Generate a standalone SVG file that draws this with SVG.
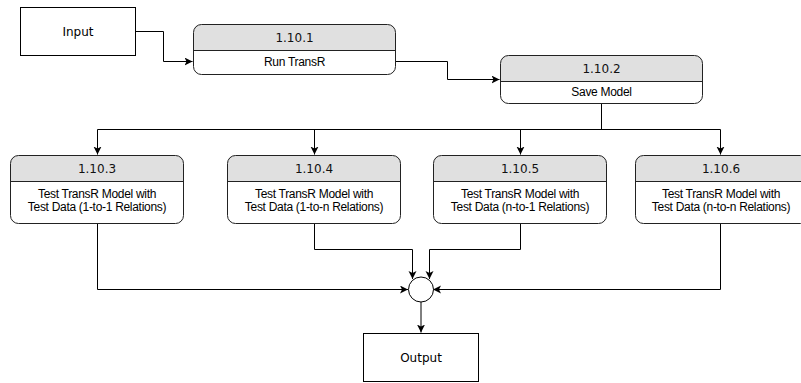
<svg xmlns="http://www.w3.org/2000/svg" width="801" height="383" viewBox="0 0 801 383">
<style>
.box{fill:#fff;stroke:#000;stroke-width:1}
.rbox{fill:none;stroke:#222;stroke-width:1}
.hdr{fill:#e0e0e0;stroke:none}
.div{stroke:#222;stroke-width:1}
.id{font-family:"DejaVu Sans",Verdana,sans-serif;font-size:12px;fill:#111;text-anchor:middle}
.lbl{font-family:"Liberation Sans",Arial,sans-serif;font-size:12px;letter-spacing:-0.3px;fill:#000;text-anchor:middle}
.big{font-family:"DejaVu Sans",Verdana,sans-serif;font-size:12px;fill:#000;text-anchor:middle}
.c{fill:none;stroke:#000;stroke-width:1;marker-end:url(#arr)}
.cn{fill:none;stroke:#000;stroke-width:1}
</style>
<defs>
<marker id="arr" markerUnits="userSpaceOnUse" markerWidth="10" markerHeight="10" refX="8" refY="4" orient="auto">
<path d="M0,0 L8,4 L0,8 L2,4 Z" fill="#000"/>
</marker>
<clipPath id="hc"><rect x="0" y="0" width="801" height="383"/></clipPath>
</defs>
<g id="connectors">
<path class="c" d="M135.5,31.5 H163.5 V61.5 H192.5"/>
<path class="c" d="M395.5,61.5 H447.5 V79.5 H499.5"/>
<path class="cn" d="M601.5,103.5 V129.5"/>
<path class="cn" d="M97.5,129.5 H720.5"/>
<path class="c" d="M97.5,129.5 V154.5"/>
<path class="c" d="M314.5,129.5 V154.5"/>
<path class="c" d="M520.5,129.5 V154.5"/>
<path class="c" d="M720.5,129.5 V154.5"/>
<path class="c" d="M97.5,223.5 V289.5 H408"/>
<path class="c" d="M314.5,223.5 V249.5 H412.5 V279"/>
<path class="c" d="M520.5,223.5 V249.5 H429.5 V279"/>
<path class="c" d="M720.5,223.5 V289.5 H433"/>
<path class="c" d="M421,302 V332.5"/>
</g>
<g id="input">
<rect class="box" x="20.5" y="7.5" width="115" height="48"/>
<text class="big" x="78" y="35.5">Input</text>
</g>
<g id="n1101">
<path class="hdr" d="M193.5,50.5 V32.5 Q193.5,24.5 201.5,24.5 H387.5 Q395.5,24.5 395.5,32.5 V50.5 Z"/>
<rect class="rbox" x="193.5" y="24.5" width="202" height="50" rx="8"/>
<line class="div" x1="193.5" y1="50.5" x2="395.5" y2="50.5"/>
<text class="id" x="294.5" y="41.5">1.10.1</text>
<text class="lbl" x="294.5" y="66">Run TransR</text>
</g>
<g id="n1102">
<path class="hdr" d="M500.5,81.5 V63.5 Q500.5,55.5 508.5,55.5 H694.5 Q702.5,55.5 702.5,63.5 V81.5 Z"/>
<rect class="rbox" x="500.5" y="55.5" width="202" height="48" rx="8"/>
<line class="div" x1="500.5" y1="81.5" x2="702.5" y2="81.5"/>
<text class="id" x="601.5" y="72.5">1.10.2</text>
<text class="lbl" x="601.5" y="96">Save Model</text>
</g>
<g id="n1103">
<path class="hdr" d="M10.5,181.5 V163.5 Q10.5,155.5 18.5,155.5 H175.5 Q183.5,155.5 183.5,163.5 V181.5 Z"/>
<rect class="rbox" x="10.5" y="155.5" width="173" height="68" rx="8"/>
<line class="div" x1="10.5" y1="181.5" x2="183.5" y2="181.5"/>
<text class="id" x="97" y="172.5">1.10.3</text>
<text class="lbl" x="97" y="198">Test TransR Model with</text>
<text class="lbl" x="97" y="211">Test Data (1-to-1 Relations)</text>
</g>
<g id="n1104">
<path class="hdr" d="M227.5,181.5 V163.5 Q227.5,155.5 235.5,155.5 H392.5 Q400.5,155.5 400.5,163.5 V181.5 Z"/>
<rect class="rbox" x="227.5" y="155.5" width="173" height="68" rx="8"/>
<line class="div" x1="227.5" y1="181.5" x2="400.5" y2="181.5"/>
<text class="id" x="314" y="172.5">1.10.4</text>
<text class="lbl" x="314" y="198">Test TransR Model with</text>
<text class="lbl" x="314" y="211">Test Data (1-to-n Relations)</text>
</g>
<g id="n1105">
<path class="hdr" d="M433.5,181.5 V163.5 Q433.5,155.5 441.5,155.5 H598.5 Q606.5,155.5 606.5,163.5 V181.5 Z"/>
<rect class="rbox" x="433.5" y="155.5" width="173" height="68" rx="8"/>
<line class="div" x1="433.5" y1="181.5" x2="606.5" y2="181.5"/>
<text class="id" x="520" y="172.5">1.10.5</text>
<text class="lbl" x="520" y="198">Test TransR Model with</text>
<text class="lbl" x="520" y="211">Test Data (n-to-1 Relations)</text>
</g>
<g id="n1106" clip-path="url(#hc)">
<path class="hdr" d="M635.5,181.5 V163.5 Q635.5,155.5 643.5,155.5 H800.5 Q808.5,155.5 808.5,163.5 V181.5 Z"/>
<rect class="rbox" x="635.5" y="155.5" width="173" height="68" rx="8"/>
<line class="div" x1="635.5" y1="181.5" x2="808.5" y2="181.5"/>
<text class="id" x="721" y="172.5">1.10.6</text>
<text class="lbl" x="721" y="198">Test TransR Model with</text>
<text class="lbl" x="721" y="211">Test Data (n-to-n Relations)</text>
</g>
<g id="join">
<circle class="box" cx="421" cy="289.5" r="12.5"/>
</g>
<g id="output">
<rect class="box" x="363.5" y="333.5" width="115" height="48"/>
<text class="big" x="421" y="362">Output</text>
</g>
</svg>
